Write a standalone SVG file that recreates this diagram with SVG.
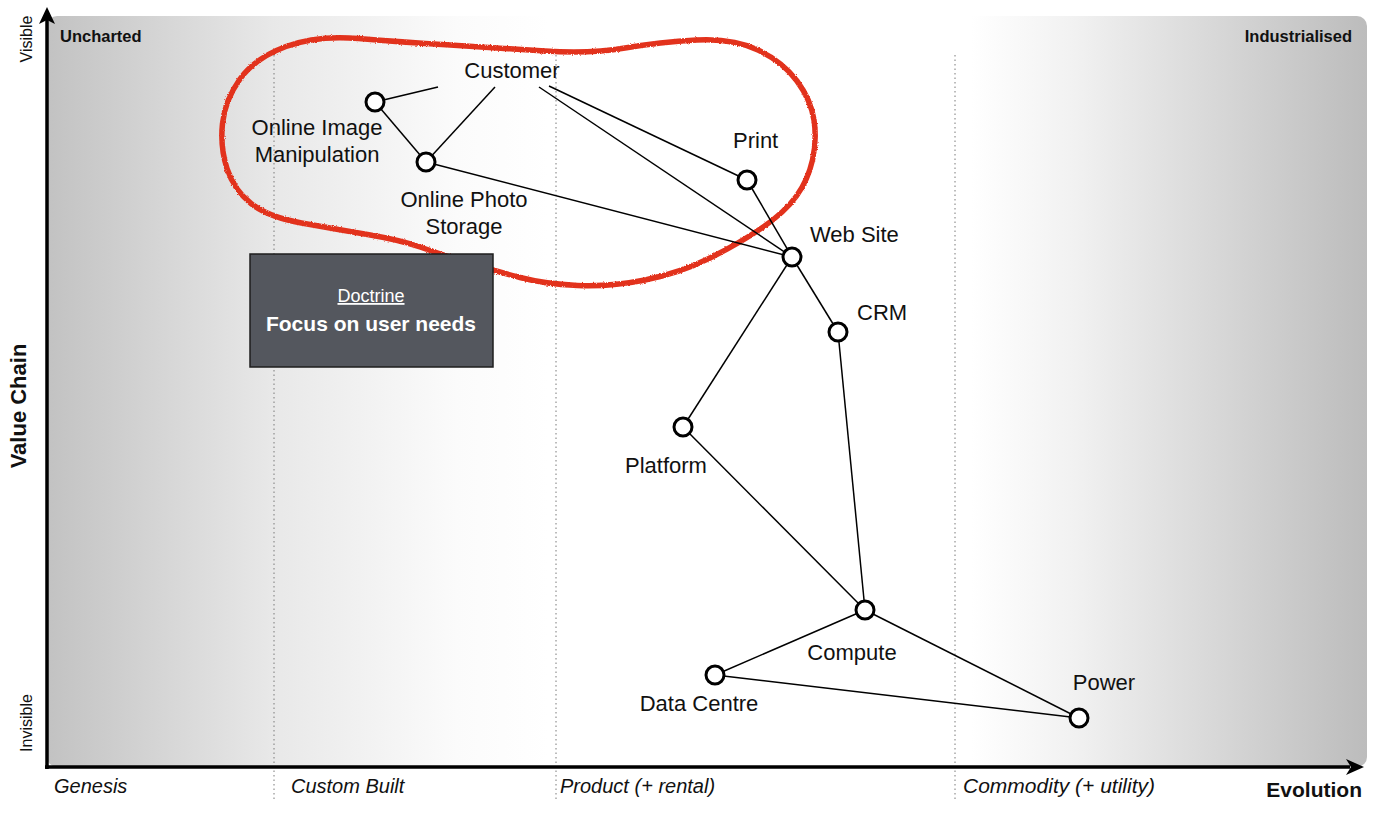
<svg xmlns="http://www.w3.org/2000/svg" width="1400" height="815" viewBox="0 0 1400 815">
<defs>
  <linearGradient id="bg" x1="47" y1="0" x2="1367" y2="0" gradientUnits="userSpaceOnUse">
    <stop offset="0" stop-color="#c2c2c2"/>
    <stop offset="0.17" stop-color="#e8e8e8"/>
    <stop offset="0.31" stop-color="#fbfbfb"/>
    <stop offset="0.38" stop-color="#ffffff"/>
    <stop offset="0.70" stop-color="#ffffff"/>
    <stop offset="0.78" stop-color="#f1f1f1"/>
    <stop offset="1" stop-color="#bcbcbc"/>
  </linearGradient>
  <filter id="rough" x="-5%" y="-5%" width="110%" height="110%">
    <feTurbulence type="fractalNoise" baseFrequency="0.9" numOctaves="2" seed="3" result="n"/>
    <feDisplacementMap in="SourceGraphic" in2="n" scale="2.5" xChannelSelector="R" yChannelSelector="G"/>
  </filter>
  <style>
    .lbl { font-family: "Liberation Sans", Arial, sans-serif; font-size: 22px; fill: #111; }
    .axl { font-family: "Liberation Sans", Arial, sans-serif; font-size: 20px; font-style: italic; fill: #111; }
    .bold { font-family: "Liberation Sans", Arial, sans-serif; font-weight: bold; fill: #111; }
    .side { font-family: "Liberation Sans", Arial, sans-serif; font-size: 16px; fill: #111; }
    .node circle { fill: #fff; stroke: #000; stroke-width: 3; }
    .edges line { stroke: #000; stroke-width: 1.5; }
    .grid line { stroke: #7a7a7a; stroke-width: 1; stroke-dasharray: 1.5 3; }
  </style>
</defs>

<!-- background panel -->
<rect x="47" y="16" width="1320" height="751" rx="10" ry="10" fill="url(#bg)"/>

<!-- stage dotted lines -->
<g class="grid">
  <line x1="274" y1="55" x2="274" y2="800"/>
  <line x1="556" y1="55" x2="556" y2="800"/>
  <line x1="955" y1="55" x2="955" y2="800"/>
</g>

<!-- axes -->
<g id="axes">
  <line x1="47" y1="20" x2="47" y2="769" stroke="#000" stroke-width="3.5"/>
  <line x1="45" y1="767" x2="1350" y2="767" stroke="#000" stroke-width="3.5"/>
  <polygon points="47,7 55,24 47,20 39,24" fill="#000"/>
  <polygon points="1364,767 1346,759 1351,767 1346,775" fill="#000"/>
</g>

<!-- axis labels -->
<text class="bold" x="60" y="42" font-size="16.5">Uncharted</text>
<text class="bold" x="1352" y="42" font-size="16.5" text-anchor="end">Industrialised</text>
<text class="side" transform="translate(32,39) rotate(-90)" text-anchor="middle">Visible</text>
<text class="side" transform="translate(32,723) rotate(-90)" text-anchor="middle">Invisible</text>
<text class="bold" transform="translate(26,406) rotate(-90)" text-anchor="middle" font-size="22">Value Chain</text>
<text class="axl" x="54" y="793">Genesis</text>
<text class="axl" x="291" y="793">Custom Built</text>
<text class="axl" x="560" y="793">Product (+ rental)</text>
<text class="axl" x="963" y="793" textLength="192" lengthAdjust="spacingAndGlyphs">Commodity (+ utility)</text>
<text class="bold" x="1362" y="797" font-size="21" text-anchor="end">Evolution</text>

<!-- red outline -->
<path id="highlight" filter="url(#rough)" fill="none" stroke="#e2321d" stroke-width="5.5" stroke-linejoin="round"
  d="M286,46.5 Q317,35 358.5,38.5 Q400,42 450,45 Q500,48 545,51 Q590,54 625,48 Q660,42 696.5,40 Q733,38 758,50 Q783,62 797,81 Q811,100 814,120 Q817,140 812.5,160 Q808,180 796.5,196 Q785,212 762.5,227.5 Q740,243 710,258 Q680,273 645,280 Q610,287 577.5,285.5 Q545,284 520,277.5 Q495,271 467.5,262.5 Q440,254 420,247 Q400,240 367.5,234.5 Q335,229 301.5,223 Q268,217 251,203.5 Q234,190 227,168.5 Q220,147 222.5,123.5 Q225,100 240,79 Q255,58 286,46.5 Z"/>

<!-- doctrine box -->
<g id="doctrine">
  <rect x="250" y="254" width="243" height="113" fill="#54575e" stroke="#1e1e1e" stroke-width="1.5"/>
  <text x="371" y="302" text-anchor="middle" font-family="Liberation Sans, Arial, sans-serif" font-size="18" fill="#fff" text-decoration="underline">Doctrine</text>
  <text x="371" y="331" text-anchor="middle" font-family="Liberation Sans, Arial, sans-serif" font-size="21" font-weight="bold" fill="#fff">Focus on user needs</text>
</g>

<!-- connectors -->
<g class="edges" id="connectors">
  <line x1="438" y1="87" x2="375" y2="102"/>
  <line x1="495" y1="87" x2="426" y2="162"/>
  <line x1="539" y1="87" x2="792" y2="257"/>
  <line x1="549" y1="86" x2="747" y2="180"/>
  <line x1="375" y1="102" x2="426" y2="162"/>
  <line x1="426" y1="162" x2="792" y2="257"/>
  <line x1="747" y1="180" x2="792" y2="257"/>
  <line x1="792" y1="257" x2="838" y2="332"/>
  <line x1="792" y1="257" x2="683" y2="427"/>
  <line x1="838" y1="332" x2="865" y2="610"/>
  <line x1="683" y1="427" x2="865" y2="610"/>
  <line x1="865" y1="610" x2="715" y2="675"/>
  <line x1="865" y1="610" x2="1079" y2="718"/>
  <line x1="715" y1="675" x2="1079" y2="718"/>
</g>

<!-- nodes -->
<g id="customer" class="node">
  <text class="lbl" x="512" y="78" text-anchor="middle">Customer</text>
</g>
<g id="online-image-manipulation" class="node">
  <circle cx="375" cy="102" r="9"/>
  <text class="lbl" x="317" y="135" text-anchor="middle">Online Image</text>
  <text class="lbl" x="317" y="162" text-anchor="middle">Manipulation</text>
</g>
<g id="online-photo-storage" class="node">
  <circle cx="426" cy="162" r="9"/>
  <text class="lbl" x="464" y="207" text-anchor="middle">Online Photo</text>
  <text class="lbl" x="464" y="234" text-anchor="middle">Storage</text>
</g>
<g id="print" class="node">
  <circle cx="747" cy="180" r="9"/>
  <text class="lbl" x="733" y="148">Print</text>
</g>
<g id="web-site" class="node">
  <circle cx="792" cy="257" r="9"/>
  <text class="lbl" x="810" y="242">Web Site</text>
</g>
<g id="crm" class="node">
  <circle cx="838" cy="332" r="9"/>
  <text class="lbl" x="857" y="320">CRM</text>
</g>
<g id="platform" class="node">
  <circle cx="683" cy="427" r="9"/>
  <text class="lbl" x="666" y="473" text-anchor="middle">Platform</text>
</g>
<g id="compute" class="node">
  <circle cx="865" cy="610" r="9"/>
  <text class="lbl" x="852" y="660" text-anchor="middle">Compute</text>
</g>
<g id="data-centre" class="node">
  <circle cx="715" cy="675" r="9"/>
  <text class="lbl" x="699" y="711" text-anchor="middle">Data Centre</text>
</g>
<g id="power" class="node">
  <circle cx="1079" cy="718" r="9"/>
  <text class="lbl" x="1104" y="690" text-anchor="middle">Power</text>
</g>
</svg>
